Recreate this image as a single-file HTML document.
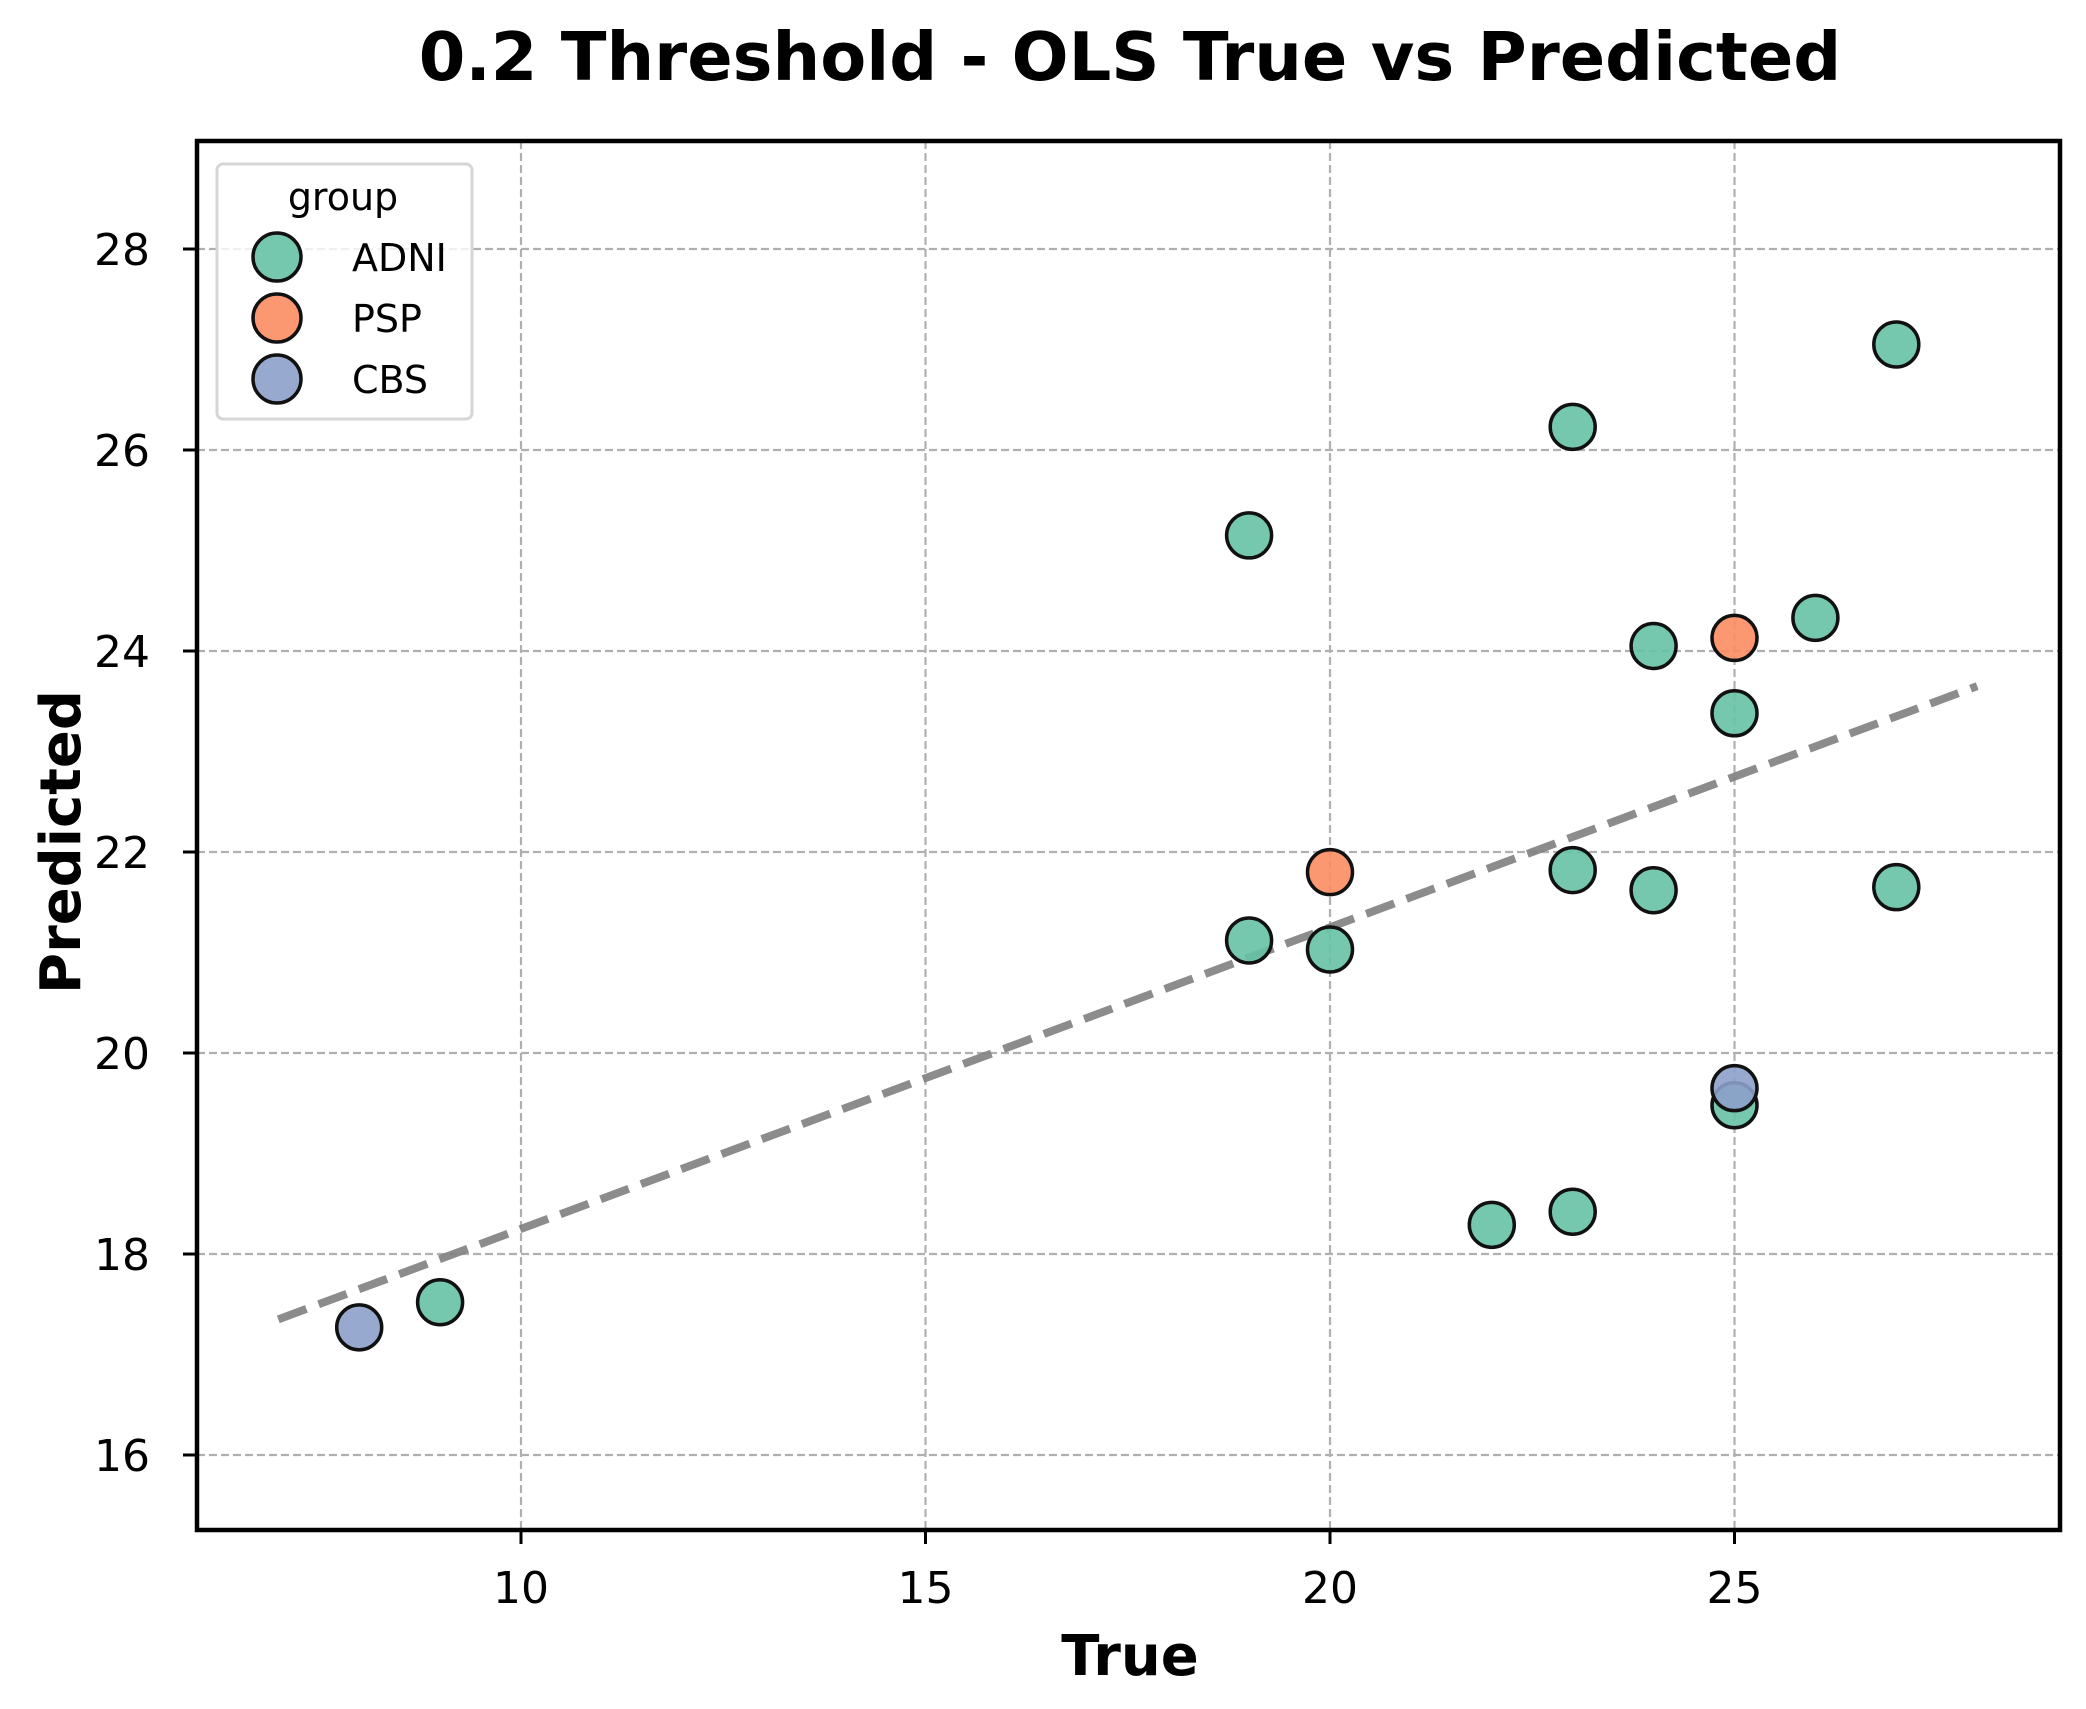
<!DOCTYPE html>
<html><head><meta charset="utf-8"><style>
html,body{margin:0;padding:0;background:#fff;}
svg{display:block;font-family:"DejaVu Sans","Liberation Sans",sans-serif;}
</style></head><body>
<svg id="chart" width="2086" height="1709" viewBox="0 0 2086 1709">
<text x="1130" y="80" text-anchor="middle" font-size="67" font-weight="bold">0.2 Threshold - OLS True vs Predicted</text>
<g id="grid"></g>
<g id="ticks"></g>
<g id="fit"></g>
<g id="points"></g>
<rect x="197" y="141" width="1863" height="1389" fill="none" stroke="#000" stroke-width="4.5"/>
<text x="1130" y="1675" text-anchor="middle" font-size="56" font-weight="bold">True</text>
<text transform="translate(80,842) rotate(-90)" text-anchor="middle" font-size="56" font-weight="bold">Predicted</text>
<g>
<rect x="217" y="164" width="255" height="255" rx="6" fill="#fff" fill-opacity="0.8" stroke="#d6d6d6" stroke-width="3"/>
<text x="343" y="210" text-anchor="middle" font-size="38">group</text>
<g><circle cx="277" cy="257" r="24" fill="#66c2a5" fill-opacity="0.9" stroke="#111" stroke-width="3.5"/><text x="352" y="271" font-size="38">ADNI</text></g>
<g><circle cx="277" cy="318" r="24" fill="#fc8d62" fill-opacity="0.9" stroke="#111" stroke-width="3.5"/><text x="352" y="332" font-size="38">PSP</text></g>
<g><circle cx="277" cy="379" r="24" fill="#8da0cb" fill-opacity="0.9" stroke="#111" stroke-width="3.5"/><text x="352" y="393" font-size="38">CBS</text></g>
</g>
</svg>
<script>
const xTicks = [10, 15, 20, 25];
const yTicks = [16, 18, 20, 22, 24, 26, 28];
const groups = ["ADNI", "PSP", "CBS"];
const adniX = [9, 19, 19, 20, 22, 23, 23, 23, 24, 24, 25, 25, 26, 27, 27];
const adniY = [17.52, 25.15, 21.12, 21.03, 18.29, 26.23, 21.82, 18.42, 24.05, 21.62, 23.38, 19.48, 24.33, 27.05, 21.65];
const pspX = [20, 25];
const pspY = [21.8, 24.13];
const cbsX = [8, 25];
const cbsY = [17.27, 19.65];
const fitX = [7, 28];
const fitY = [17.35, 23.65];

const NS = "http://www.w3.org/2000/svg";
const X0 = 521, XU = 80.9;
const Y0 = 249, YU = 100.5;
function sx(v){ return X0 + (v - 10) * XU; }
function sy(v){ return Y0 + (28 - v) * YU; }
function mk(tag, attrs, parent){
  const e = document.createElementNS(NS, tag);
  for (const k in attrs) e.setAttribute(k, attrs[k]);
  parent.appendChild(e);
  return e;
}
const grid = document.getElementById("grid");
const ticks = document.getElementById("ticks");
xTicks.forEach(t => {
  const gl = mk("line", {x1: sx(t), x2: sx(t), y1: 141, y2: 1530, stroke: "#b0b0b0", "stroke-width": 2.2, "stroke-dasharray": "8,4"}, grid);
  
  
  const tk = mk("line", {x1: sx(t), x2: sx(t), y1: 1530, y2: 1544, stroke: "#000", "stroke-width": 3}, ticks);
  
  
  const tl = mk("text", {x: sx(t), y: 1603, "text-anchor": "middle", "font-size": 44}, ticks);
  tl.textContent = t;
  
  
});
yTicks.forEach(t => {
  const gl = mk("line", {x1: 197, x2: 2060, y1: sy(t), y2: sy(t), stroke: "#b0b0b0", "stroke-width": 2.2, "stroke-dasharray": "8,4"}, grid);
  
  
  const tk = mk("line", {x1: 183, x2: 197, y1: sy(t), y2: sy(t), stroke: "#000", "stroke-width": 3}, ticks);
  
  
  const tl = mk("text", {x: 150, y: sy(t) + 16, "text-anchor": "end", "font-size": 44}, ticks);
  tl.textContent = t;
  
  
});
const fit = document.getElementById("fit");
const fl = mk("line", {x1: sx(fitX[0]), y1: sy(fitY[0]), x2: sx(fitX[1]), y2: sy(fitY[1]), stroke: "#7f7f7f", "stroke-opacity": 0.9, "stroke-width": 8, "stroke-dasharray": "30,13"}, fit);


const pts = document.getElementById("points");
function drawSeries(xs, ys, color, name){
  xs.forEach((x, i) => {
    const c = mk("circle", {cx: sx(x), cy: sy(ys[i]), r: 22.5, fill: color, "fill-opacity": 0.9, stroke: "#111", "stroke-width": 3.5}, pts);
    
    
  });
}
drawSeries(adniX, adniY, "#66c2a5", "adni");
drawSeries(pspX, pspY, "#fc8d62", "psp");
drawSeries(cbsX, cbsY, "#8da0cb", "cbs");
</script>
</body></html>
